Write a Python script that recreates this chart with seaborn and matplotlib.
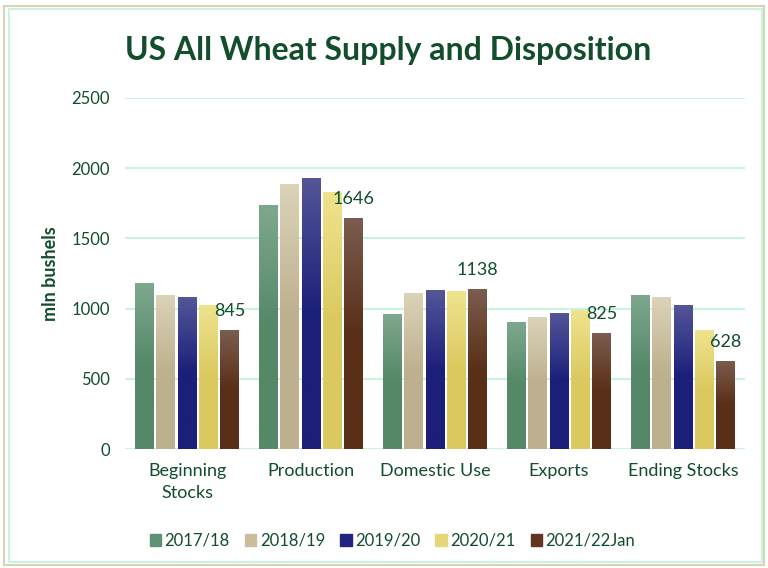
import numpy as np
import pandas as pd
import matplotlib.pyplot as plt
import seaborn as sns
from matplotlib.colors import LinearSegmentedColormap
from matplotlib.patches import Rectangle

# Chart data (mln bushels)
categories = ["Beginning\nStocks", "Production", "Domestic Use", "Exports", "Ending Stocks"]
years = ["2017/18", "2018/19", "2019/20", "2020/21", "2021/22Jan"]
v_2017 = [1181, 1741, 964, 906, 1099]
v_2018 = [1099, 1885, 1111, 937, 1080]
v_2019 = [1080, 1932, 1130, 969, 1028]
v_2020 = [1028, 1828, 1126, 992, 845]
v_2021 = [845, 1646, 1138, 825, 628]

# gradient colours (top, bottom) per year
grad = {
    "2017/18": ("#7ea88e", "#548867"),
    "2018/19": ("#dbd3b8", "#bdb08e"),
    "2019/20": ("#535697", "#1c1f7a"),
    "2020/21": ("#eee38e", "#dbc95f"),
    "2021/22Jan": ("#7b5c4e", "#5a2f17"),
}
legend_cols = {"2017/18": "#5f9273", "2018/19": "#c9bd9c", "2019/20": "#22257f",
               "2020/21": "#e5d677", "2021/22Jan": "#633520"}

dark_green = "#124d2c"
grid_col = "#c8f3df"

rows = []
for yr, vals in zip(years, [v_2017, v_2018, v_2019, v_2020, v_2021]):
    for cat, v in zip(categories, vals):
        rows.append({"category": cat, "year": yr, "value": v})
df = pd.DataFrame(rows)

sns.set_style("white")
plt.rcParams["font.family"] = ["Lato", "DejaVu Sans"]

fig = plt.figure(figsize=(7.68, 5.68), dpi=100)
ax = fig.add_axes([0.163, 0.2095, 0.807, 0.618])

sns.barplot(data=df, x="category", y="value", hue="year", palette=legend_cols,
            width=0.86, gap=0.12, ax=ax, legend=False, saturation=1)

# gradient fill for every bar
n_cat = len(categories)
for i, patch in enumerate(ax.patches):
    yr = years[i // n_cat]
    top, bot = grad[yr]
    cmap = LinearSegmentedColormap.from_list(yr, [bot, bot, top])
    x0, y0 = patch.get_x(), patch.get_y()
    w, h = patch.get_width(), patch.get_height()
    img = np.linspace(0, 1, 100).reshape(-1, 1)
    im = ax.imshow(img, cmap=cmap, origin="lower", aspect="auto",
                   extent=[x0, x0 + w, y0, y0 + h], zorder=patch.get_zorder())
    im.set_clip_path(patch)
    patch.set_edgecolor("none")

# labels on the latest series only
for i, v in enumerate(v_2021):
    p = ax.patches[4 * n_cat + i]
    ax.annotate(f"{v}", (p.get_x() + p.get_width() / 2, v), xytext=(0, 8),
                textcoords="offset points", ha="center", va="bottom",
                fontsize=13, color=dark_green)

ax.set_xlim(-0.5, n_cat - 0.5)
ax.set_ylim(0, 2500)
ax.set_yticks(range(0, 2501, 500))
ax.grid(axis="y", color=grid_col, linewidth=1.5)
ax.set_axisbelow(True)
sns.despine(ax=ax, left=True, bottom=True)
ax.tick_params(axis="y", labelsize=12, labelcolor=dark_green, length=0, pad=11)
ax.tick_params(axis="x", labelsize=13, labelcolor=dark_green, length=0, pad=10)
for lbl in ax.get_xticklabels():
    lbl.set_linespacing(1.45)
ax.set_xlabel("")
ax.set_ylabel("mln bushels", fontsize=13, fontweight="bold", color=dark_green, labelpad=9)

fig.suptitle("US All Wheat Supply and Disposition", x=0.505, y=0.937,
             fontsize=23, fontweight="bold", color=dark_green)

handles = [Rectangle((0, 0), 1, 1, color=legend_cols[y]) for y in years]
fig.legend(handles, years, loc="center", bbox_to_anchor=(0.511, 0.048), ncol=5,
           frameon=False, fontsize=12, handlelength=0.7, handleheight=0.7,
           handletextpad=0.2, columnspacing=0.9, labelcolor=dark_green)

# thin frame around the chart area
fig.patches.append(Rectangle((0.005, 0.005), 0.99, 0.985, transform=fig.transFigure,
                             fill=False, edgecolor="#d9d3b5", linewidth=1.5))
fig.patches.append(Rectangle((0.012, 0.01), 0.98, 0.975, transform=fig.transFigure,
                             fill=False, edgecolor=grid_col, linewidth=1.5))

plt.savefig("out.png", dpi=100)
